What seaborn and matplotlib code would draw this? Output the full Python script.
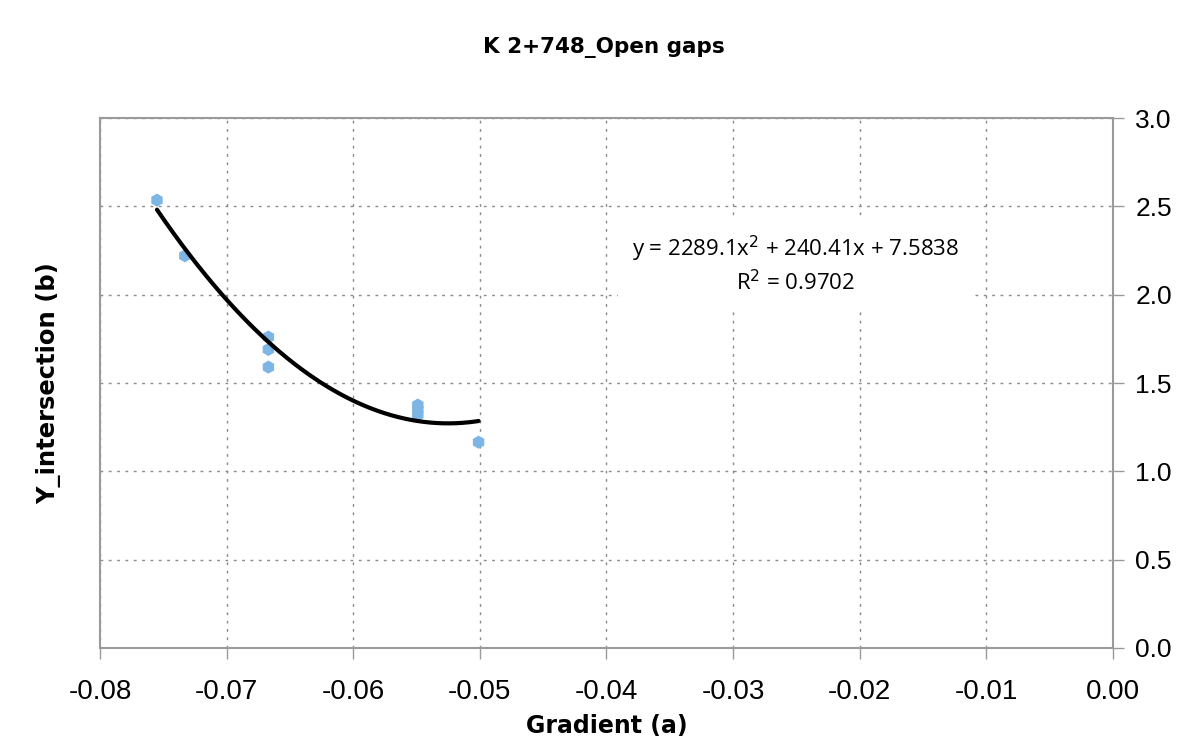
import numpy as np
import pandas as pd
import matplotlib
matplotlib.use("Agg")
import matplotlib.pyplot as plt
import seaborn as sns
from matplotlib import font_manager

# Measured points: gradient (a) vs. y-intersection (b)
gradient = [-0.0755, -0.0733, -0.0667, -0.0667, -0.0667, -0.0549, -0.0549, -0.0549, -0.0501]
y_intersection = [2.535, 2.22, 1.76, 1.69, 1.59, 1.375, 1.35, 1.32, 1.165]

# Second-order polynomial trend line
coef_a2, coef_a1, coef_a0 = 2289.1, 240.41, 7.5838
r_squared = 0.9702

x_ticks = [-0.08, -0.07, -0.06, -0.05, -0.04, -0.03, -0.02, -0.01, 0.00]
y_ticks = [0.0, 0.5, 1.0, 1.5, 2.0, 2.5, 3.0]

sns.set_theme(style="white")

installed = {f.name for f in font_manager.fontManager.ttflist}
narrow = "Liberation Sans Narrow" if "Liberation Sans Narrow" in installed else "Liberation Sans"
plt.rcParams["font.family"] = ["Liberation Sans", "DejaVu Sans"]
plt.rcParams["text.color"] = "black"
plt.rcParams["axes.labelcolor"] = "black"
plt.rcParams["xtick.labelcolor"] = "black"
plt.rcParams["ytick.labelcolor"] = "black"

fig = plt.figure(figsize=(11.82, 7.48), dpi=100)
fig.patch.set_facecolor("white")
ax = fig.add_axes([0.0846, 0.1337, 0.857, 0.7085])

df = pd.DataFrame({"gradient": gradient, "b": y_intersection})
sns.scatterplot(data=df, x="gradient", y="b", ax=ax, color="#7db5e4",
                marker="h", s=90, edgecolor="none", zorder=3)

x_fit = np.linspace(min(gradient), max(gradient), 200)
fit_df = pd.DataFrame({"x": x_fit, "y": coef_a2 * x_fit**2 + coef_a1 * x_fit + coef_a0})
sns.lineplot(data=fit_df, x="x", y="y", ax=ax, color="black", linewidth=3, zorder=4)

ax.set_xlim(-0.08, 0.0)
ax.set_ylim(0.0, 3.0)
ax.set_xticks(x_ticks)
ax.set_yticks(y_ticks)
ax.set_xticklabels([f"{t:.2f}" for t in x_ticks], fontsize=20, family=[narrow, "DejaVu Sans"])
ax.set_yticklabels([f"{t:.1f}" for t in y_ticks], fontsize=19)

ax.yaxis.tick_right()
ax.tick_params(axis="y", which="both", direction="out", length=8, width=1,
               color="#9a9a9a", pad=8, right=True, left=False)
ax.tick_params(axis="x", which="both", direction="out", length=8, width=1,
               color="#9a9a9a", pad=14, bottom=True)

ax.grid(True, linestyle=(0, (2, 4)), color="#8a8a8a", linewidth=1)
for side in ["left", "right", "top", "bottom"]:
    ax.spines[side].set_visible(True)
    ax.spines[side].set_color("#9a9a9a")
    ax.spines[side].set_linewidth(1.5)

ax.set_xlabel("Gradient (a)", fontsize=17, fontweight="bold", labelpad=7,
              family=["DejaVu Sans"])
ax.set_ylabel("Y_intersection (b)", fontsize=17.5, fontweight="bold", labelpad=28,
              family=["DejaVu Sans"])
ax.yaxis.set_label_position("left")

fig.text(0.511, 0.937, "K 2+748_Open gaps", ha="center", va="center",
         fontsize=15.5, fontweight="bold", family=["DejaVu Sans"])

ax.text(-0.0251, 2.17, f"y = {coef_a2}x$^2$ + {coef_a1}x + {coef_a0}\nR$^2$ = {r_squared}",
        ha="center", va="center", fontsize=16, family=["Open Sans", "DejaVu Sans"],
        linespacing=1.3,
        bbox=dict(boxstyle="square,pad=0.6", facecolor="white", edgecolor="none"),
        zorder=5)

fig.savefig("out.png", dpi=100, facecolor="white")
